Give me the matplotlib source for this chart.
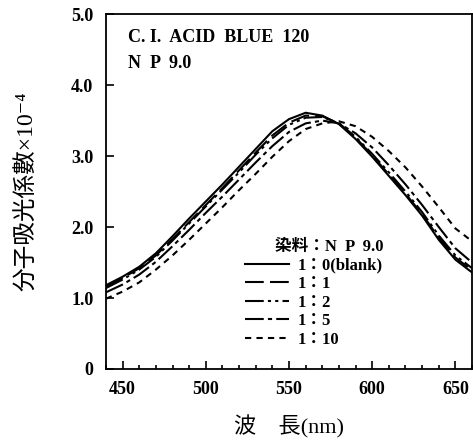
import matplotlib
matplotlib.use("Agg")
import matplotlib.pyplot as plt
from matplotlib.ticker import MultipleLocator, FixedLocator, FixedFormatter

plt.rcParams['font.family'] = ['Liberation Serif', 'Noto Sans CJK JP', 'DejaVu Sans']

wavelength = [440, 450, 460, 470, 480, 490, 500, 510, 520, 530, 540, 550,
              560, 570, 580, 590, 600, 610, 620, 630, 640, 650, 660]
blank = [1.18, 1.30, 1.44, 1.63, 1.87, 2.12, 2.36, 2.60, 2.85, 3.10, 3.35, 3.52,
         3.61, 3.57, 3.45, 3.24, 2.99, 2.72, 2.45, 2.16, 1.82, 1.54, 1.36]
r1_1 = [1.16, 1.28, 1.42, 1.60, 1.83, 2.07, 2.31, 2.55, 2.80, 3.05, 3.29, 3.47,
        3.57, 3.56, 3.46, 3.26, 3.01, 2.74, 2.47, 2.18, 1.85, 1.57, 1.39]
r1_2 = [1.14, 1.26, 1.40, 1.58, 1.81, 2.05, 2.29, 2.53, 2.77, 3.02, 3.25, 3.44,
        3.54, 3.55, 3.46, 3.27, 3.03, 2.77, 2.50, 2.21, 1.88, 1.60, 1.42]
r1_5 = [1.08, 1.19, 1.33, 1.51, 1.73, 1.96, 2.20, 2.43, 2.67, 2.91, 3.14, 3.34,
        3.46, 3.50, 3.46, 3.32, 3.12, 2.87, 2.60, 2.31, 2.00, 1.70, 1.50]
r1_10 = [0.99, 1.09, 1.22, 1.40, 1.60, 1.82, 2.05, 2.28, 2.52, 2.75, 2.99, 3.21,
         3.38, 3.46, 3.49, 3.42, 3.27, 3.07, 2.84, 2.57, 2.28, 1.98, 1.80]

series = [blank, r1_1, r1_2, r1_5, r1_10]
labels = ['1：0(blank)', '1：1', '1：2', '1：5', '1：10']
styles = ['-', (0, (9, 3)), (0, (9, 2, 1.5, 2, 1.5, 2)), (0, (9, 2, 2, 2)), (0, (3, 2.5))]

xticks = [450, 500, 550, 600, 650]
yticks = [0, 1.0, 2.0, 3.0, 4.0, 5.0]
ytick_labels = ['0', '1.0', '2.0', '3.0', '4.0', '5.0']

fig = plt.figure(figsize=(4.73, 4.47), dpi=100)
ax = fig.add_axes([0.224, 0.1745, 0.774, 0.794])

for ys, lab, ls in zip(series, labels, styles):
    ax.plot(wavelength, ys, color='black', linestyle=ls, linewidth=1.5, label=lab)

ax.set_xlim(440, 660)
ax.set_ylim(0, 5.0)
ax.xaxis.set_major_locator(FixedLocator(xticks))
ax.xaxis.set_minor_locator(MultipleLocator(10))
ax.yaxis.set_major_locator(FixedLocator(yticks))
ax.yaxis.set_major_formatter(FixedFormatter(ytick_labels))
ax.tick_params(which='both', direction='in', width=1.2)
ax.tick_params(which='major', length=6, labelsize=13, pad=9)
ax.tick_params(which='minor', length=3)
for lbl in ax.get_xticklabels() + ax.get_yticklabels():
    lbl.set_fontweight('bold')
for sp in ax.spines.values():
    sp.set_linewidth(1.3)

ax.text(0.06, 0.958, 'C. I.  ACID  BLUE  120', transform=ax.transAxes,
        fontsize=13, fontweight='bold', va='top', ha='left')
ax.text(0.06, 0.885, 'N  P  9.0', transform=ax.transAxes,
        fontsize=13, fontweight='bold', va='top', ha='left')

leg = ax.legend(loc='lower right', bbox_to_anchor=(0.757, 0.06), frameon=False,
                title='染料：N  P  9.0', fontsize=12, handlelength=2.6,
                handletextpad=0.55, labelspacing=0.15, borderpad=0.0,
                borderaxespad=0.0)
leg.get_title().set_fontsize(12)
leg.get_title().set_fontweight('bold')
leg._legend_box.align = 'right'
for t in leg.get_texts():
    t.set_fontweight('bold')

ax.set_xlabel('波　長(nm)', fontsize=16, labelpad=12)
ax.set_ylabel('分子吸光係數×10⁻⁴', fontsize=17, labelpad=24)

fig.savefig('out.png', dpi=100)
